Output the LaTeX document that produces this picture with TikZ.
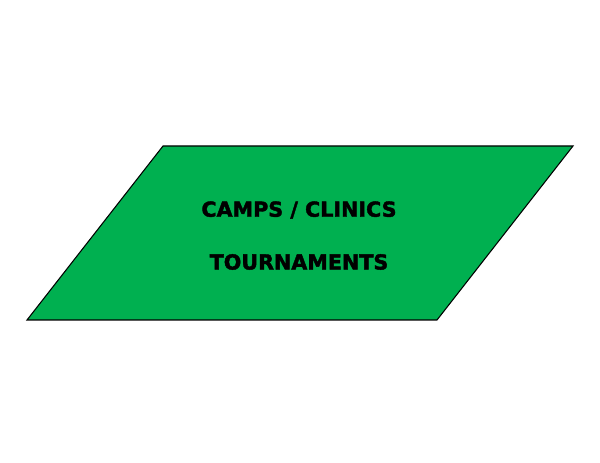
\documentclass[tikz,border=0pt]{standalone}
\usepackage{fontspec}
\usepackage{tikz}
\newfontfamily\bannerfont[BoldFeatures={FakeBold=2}]{DejaVu Sans}
\definecolor{fieldgreen}{HTML}{00B050}
\tikzset{
    banner/.style={fill=fieldgreen, draw=black, line width=0.8pt, line join=miter},
    bannertext/.style={font=\bannerfont\bfseries\fontsize{15.5}{18}\selectfont, inner sep=0pt}
}

\begin{document}
\begin{tikzpicture}[x=0.75pt,y=-0.75pt]
        \useasboundingbox (0,0) rectangle (600,463);
        \coordinate (tl) at (163,146);
        \coordinate (tr) at (573,146);
        \coordinate (br) at (437,320);
        \coordinate (bl) at (27,320);
        \draw[banner] (tl) -- (tr) -- (br) -- (bl) -- cycle;
        \node[bannertext] (camps) at (299,210) {CAMPS / CLINICS};
        \node[bannertext] (tourn) at (299,262) {TOURNAMENTS};
    \end{tikzpicture}
\end{document}
